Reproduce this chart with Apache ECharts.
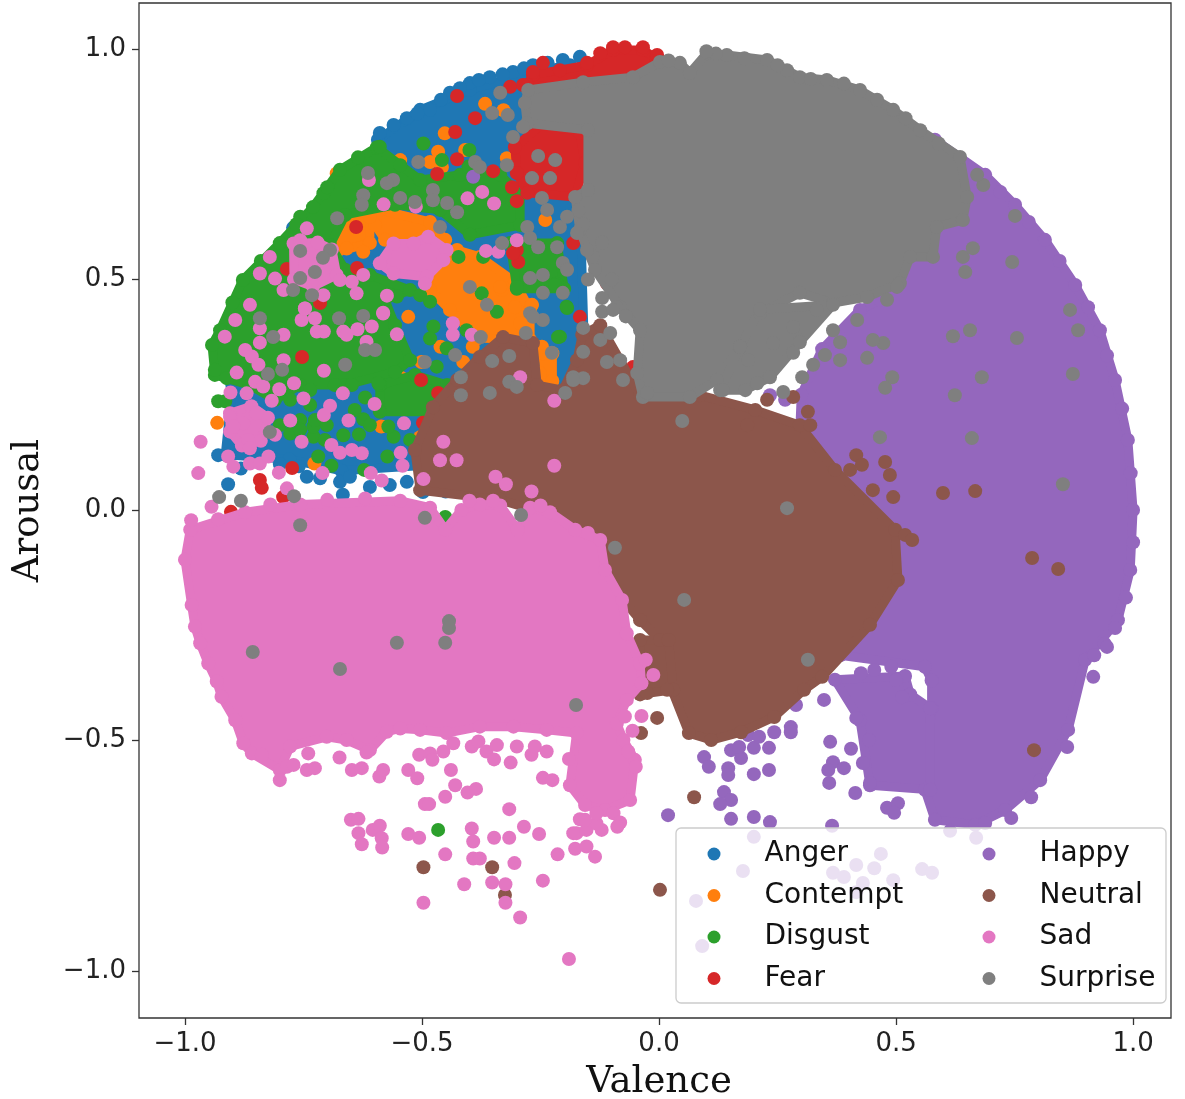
<!DOCTYPE html>
<html><head><meta charset="utf-8">
<style>html,body{margin:0;padding:0;background:#fff}#c{width:1185px;height:1099px}</style>
<script src="https://cdn.jsdelivr.net/npm/echarts@6/dist/echarts.min.js"></script>
</head><body><div id="c"></div>
<script>
const tickValues=[-1,-0.5,0,0.5,1];
const angerBody=[[-.593,.803],[-.504,.868],[-.399,.911],[-.272,.950],[-.188,.965],[-.167,.672],[-.156,.304],[-.209,.195],[-.45,.10],[-.67,.085],[-.78,.11],[-.915,.12],[-.90,.27],[-.757,.456],[-.673,.564]];
const angerDots=[[-.930,.119],[-.909,.056],[-.743,.072],[-.715,.069],[-.673,.061],[-.652,.072],[-.610,.050],[-.568,.054],[-.532,.061],[-.498,.039],[-.667,.033],[-.772,.612],[-.589,.818],[-.532,.850],[-.483,.868],[-.441,.905],[-.399,.926],[-.357,.939],[-.308,.950],[-.266,.965],[-.203,.976],[-.167,.983],[-.56,.835],[-.51,.86],[-.46,.89],[-.42,.915],[-.38,.933],[-.33,.945],[-.285,.958],[-.235,.97],[-.882,.09],[-.80,.10],[-.76,.095],[-.46,.07],[-.45,.04]];
const contemptPatchA=[[-.589,.651],[-.483,.625],[-.451,.586],[-.504,.564],[-.578,.586],[-.599,.618]];
const contemptPatchB=[[-.489,.521],[-.426,.564],[-.378,.549],[-.304,.495],[-.272,.434],[-.272,.369],[-.382,.373],[-.441,.434],[-.483,.477]];
const contemptPatchC=[[-.700,.636],[-.61,.636],[-.61,.579],[-.68,.56]];
const contemptPatchD=[[-.245,.34],[-.24,.28],[-.225,.28],[-.225,.34]];
const contemptDots=[[-.546,.759],[-.580,.766],[-.532,.730],[-.452,.817],[-.466,.777],[-.483,.755],[-.458,.744],[-.367,.881],[-.328,.867],[-.321,.763],[-.409,.781],[-.346,.695],[-.346,.629],[-.311,.643],[-.529,.419],[-.293,.405],[-.269,.444],[-.332,.477],[-.240,.629],[-.624,.560],[-.659,.567],[-.680,.730],[-.652,.687],[-.932,.189],[-.727,.101],[-.586,.181],[-.504,.158],[-.546,.288],[-.461,.354],[-.393,.354],[-.617,.325],[-.501,.321],[-.413,.321],[-.304,.440],[-.335,.484],[-.247,.354],[-.251,.297],[-.268,.445]];
const disgustBody=[[-.926,.390],[-.878,.499],[-.800,.579],[-.730,.657],[-.673,.738],[-.595,.787],[-.546,.748],[-.504,.716],[-.420,.727],[-.335,.727],[-.293,.683],[-.293,.618],[-.399,.597],[-.462,.651],[-.557,.662],[-.662,.640],[-.694,.575],[-.662,.521],[-.610,.510],[-.525,.477],[-.578,.456],[-.557,.401],[-.525,.325],[-.557,.299],[-.662,.271],[-.757,.271],[-.810,.239],[-.863,.271],[-.937,.293],[-.943,.358]];
const disgustPatchB=[[-.589,.271],[-.515,.293],[-.447,.271],[-.447,.213],[-.589,.213]];
const disgustPatchC=[[-.314,.579],[-.215,.579],[-.20,.48],[-.30,.48]];
const disgustDots=[[-.930,.236],[-.915,.236],[-.937,.304],[-.912,.286],[-.719,.116],[-.691,.096],[-.573,.116],[-.666,.162],[-.633,.164],[-.624,.197],[-.620,.244],[-.560,.159],[-.525,.152],[-.729,.159],[-.778,.166],[-.729,.181],[-.757,.195],[-.701,.184],[-.648,.271],[-.592,.275],[-.622,.087],[-.571,.181],[-.497,.795],[-.458,.759],[-.400,.781],[-.402,.745],[-.589,.788],[-.757,.636],[-.708,.687],[-.423,.549],[-.371,.549],[-.374,.470],[-.300,.484],[-.342,.430],[-.504,.466],[-.483,.452],[-.553,.463],[-.476,.398],[-.406,.390],[-.195,.441],[-.216,.491],[-.483,.372],[-.209,.376],[-.448,.351],[-.469,.311],[-.451,-.015],[-.139,.304],[-.213,.375],[-.219,.488],[-.194,.438],[-.310,.672],[-.466,-.694],[-.80,.184],[-.757,.174],[-.726,.195],[-.705,.152],[-.736,.228],[-.778,.239],[-.684,.271],[-.642,.217],[-.610,.184],[-.736,.260],[-.90,.45],[-.84,.54],[-.765,.62],[-.70,.70],[-.635,.765]];
const fearTop=[[-.266,.944],[-.152,.965],[-.097,.998],[-.034,.998],[-.006,.980],[-.040,.911],[-.278,.922]];
const fearMiddle=[[-.304,.787],[-.245,.839],[-.203,.831],[-.167,.818],[-.156,.753],[-.177,.679],[-.278,.688],[-.300,.731]];
const fearDots=[[-.266,.950],[-.245,.970],[-.209,.954],[-.152,.970],[-.124,.991],[-.097,1.004],[-.072,1.004],[-.034,1.004],[-.004,.987],[-.426,.898],[-.388,.850],[-.430,.820],[-.426,.761],[-.468,.729],[-.350,.735],[-.314,.918],[-.287,.922],[-.639,.614],[-.785,.523],[-.637,.525],[-.715,.449],[-.300,.564],[-.297,.538],[-.753,.332],[-.502,.282],[-.466,.254],[-.498,.189],[-.502,.113],[-.774,.091],[-.842,.065],[-.838,.048],[-.793,.028],[-.903,-.004],[-.135,.607],[-.124,.521],[-.110,.492],[-.055,.310],[-.055,.288],[-.167,.419],[-.308,.557],[-.181,.579],[-.30,.67],[-.31,.70]];
const happyMain=[[.582,.803],[.688,.727],[.751,.662],[.814,.586],[.878,.488],[.930,.390],[.962,.282],[.989,.152],[1.0,0],[.994,-.130],[.968,-.239],[.899,-.325],[.863,-.477],[.804,-.586],[.730,-.651],[.667,-.683],[.582,-.672],[.561,-.607],[.575,-.43],[.575,-.37],[.561,-.34],[.382,-.315],[.335,-.315],[.297,-.282],[.297,.174],[.30,.25],[.344,.349],[.424,.434],[.466,.456],[.508,.521],[.57,.76]];
const happyLower=[[.371,-.368],[.519,-.36],[.53,-.40],[.572,-.43],[.572,-.607],[.445,-.597],[.424,-.456]];
const happyDots=[[.72,.69],[.78,.625],[.845,.54],[.905,.44],[.945,.335],[.977,.22],[.995,.08],[1.0,-.07],[.985,-.19],[.94,-.29],[.49,-.34],[.426,-.354],[.454,-.347],[.500,-.369],[.513,-.406],[.160,.308],[.234,.249],[.266,.239],[-.392,.723],[.019,-.662],[.152,-.670],[.200,-.666],[.234,-.677],[.365,-.685],[.137,-.612],[.152,-.629],[.129,-.638],[.095,-.536],[.105,-.557],[.146,-.560],[.146,-.575],[.200,-.573],[.232,-.564],[.152,-.521],[.173,-.538],[.169,-.514],[.200,-.516],[.232,-.516],[.243,-.482],[.278,-.471],[.278,-.482],[.188,-.488],[.211,-.492],[.289,-.423],[.348,-.412],[.416,-.451],[.361,-.503],[.405,-.518],[.443,-.499],[.430,-.549],[.367,-.547],[.357,-.564],[.390,-.560],[.359,-.592],[.414,-.614],[.445,-.592],[.481,-.646],[.504,-.636],[.496,-.657],[.743,-.668],[.688,-.679],[.785,-.623],[.861,-.514],[.916,-.362],[.945,-.297],[.962,-.256],[.918,-.315],[.200,-.709],[.177,-.783],[.078,-.848],[.091,-.946],[.468,-.746],[.416,-.770],[.454,-.777],[.367,-.787],[.390,-.796],[.430,-.809],[.494,-.803],[.555,-.779],[.576,-.787],[.614,-.696],[.669,-.711],[.416,-.829]];
const neutralBody=[[-.477,.223],[-.426,.282],[-.378,.332],[-.329,.375],[-.266,.362],[-.257,.271],[-.203,.260],[-.173,.325],[-.162,.380],[-.124,.401],[-.040,.249],[.086,.249],[.203,.217],[.297,.184],[.371,.087],[.498,-.043],[.504,-.152],[.445,-.249],[.344,-.362],[.306,-.390],[.243,-.449],[.173,-.482],[.110,-.499],[.063,-.484],[.027,-.390],[.002,-.282],[-.040,-.239],[-.093,-.174],[-.167,-.087],[-.230,-.011],[-.335,.022],[-.504,.043],[-.515,.130]];
const neutralPatch=[[-.04,-.282],[.02,-.282],[.03,-.39],[-.04,-.40]];
const neutralDots=[[.074,-.623],[.002,-.824],[.791,-.521],[.787,-.104],[.842,-.128],[.599,.037],[.667,.041],[-.497,-.775],[-.352,-.775],[-.325,-.835],[-.004,-.451],[-.038,-.484],[-.243,-.445],[.416,.119],[.428,.098],[.477,.104],[.451,.043],[.494,.028],[.487,.076],[.519,-.054],[.534,-.065],[.403,.087],[.228,.239],[.283,.245],[.314,.213],[.319,.184],[.186,.184],[-.025,-.397],[.017,-.390]];
const sadBody=[[-.989,-.043],[-.873,-.005],[-.757,.012],[-.546,.02],[-.483,.005],[-.451,-.043],[-.417,.0],[-.378,.012],[-.335,.01],[-.298,-.043],[-.272,.005],[-.230,-.005],[-.177,-.043],[-.124,-.065],[-.114,-.130],[-.078,-.195],[-.068,-.268],[-.040,-.333],[-.037,-.376],[-.068,-.412],[-.089,-.463],[-.075,-.499],[-.051,-.542],[-.061,-.629],[-.114,-.651],[-.156,-.640],[-.188,-.597],[-.174,-.484],[-.237,-.477],[-.307,-.470],[-.378,-.470],[-.448,-.484],[-.504,-.477],[-.546,-.474],[-.574,-.481],[-.610,-.521],[-.659,-.499],[-.701,-.492],[-.778,-.513],[-.800,-.564],[-.859,-.528],[-.877,-.506],[-.894,-.456],[-.923,-.405],[-.933,-.372],[-.951,-.333],[-.968,-.289],[-.979,-.253],[-.986,-.206],[-1.0,-.108]];
const sadLobe=[[-.905,.21],[-.86,.225],[-.825,.20],[-.84,.15],[-.88,.14],[-.905,.17]];
const sadBlob=[[-.589,.535],[-.560,.578],[-.518,.578],[-.487,.593],[-.448,.564],[-.455,.542],[-.490,.506],[-.560,.513]];
const sadPatch=[[-.771,.578],[-.72,.58],[-.69,.565],[-.68,.51],[-.73,.485],[-.77,.50]];
const sadDots=[[-.93,-.02],[-.82,.012],[-.70,.022],[-.62,.025],[-.40,.02],[-.35,.02],[-.25,.01],[-.15,-.05],[-.838,-.531],[-.800,-.586],[-.785,-.557],[-.771,-.553],[-.743,-.564],[-.726,-.560],[-.740,-.528],[-.674,-.537],[-.648,-.564],[-.627,-.560],[-.590,-.578],[-.582,-.564],[-.617,-.526],[-.529,-.564],[-.510,-.582],[-.439,-.564],[-.430,-.597],[-.451,-.622],[-.494,-.638],[-.485,-.638],[-.404,-.613],[-.386,-.605],[-.506,-.531],[-.483,-.528],[-.478,-.542],[-.455,-.524],[-.434,-.506],[-.395,-.513],[-.381,-.502],[-.364,-.524],[-.348,-.541],[-.342,-.510],[-.313,-.548],[-.300,-.513],[-.269,-.531],[-.262,-.513],[-.237,-.524],[-.190,-.540],[-.245,-.581],[-.225,-.586],[-.316,-.649],[-.650,-.672],[-.634,-.670],[-.634,-.701],[-.627,-.725],[-.604,-.694],[-.589,-.685],[-.585,-.712],[-.584,-.732],[-.529,-.703],[-.506,-.711],[-.395,-.691],[-.392,-.719],[-.348,-.711],[-.316,-.711],[-.285,-.687],[-.253,-.703],[-.451,-.747],[-.392,-.756],[-.378,-.756],[-.305,-.766],[-.214,-.747],[-.411,-.812],[-.352,-.808],[-.324,-.812],[-.245,-.804],[-.497,-.852],[-.324,-.852],[-.293,-.884],[-.190,-.974],[-.177,-.735],[-.153,-.730],[-.135,-.752],[-.181,-.701],[-.167,-.671],[-.096,-.658],[-.082,-.678],[-.088,-.687],[-.121,-.694],[-.065,-.524],[-.049,-.557],[-.072,-.448],[-.037,-.447],[-.056,-.479],[-.028,-.325],[-.012,-.358],[-.174,-.701],[-.153,-.694],[-.132,-.680],[-.156,-.672],[-.132,-.658],
[-.916,.376],[-.894,.412],[-.863,.445],[-.842,.394],[-.842,.363],[-.792,.380],[-.754,.412],[-.747,.437],[-.726,.416],[-.722,.387],[-.707,.387],[-.666,.387],[-.659,.380],[-.636,.392],[-.606,.398],[-.617,.365],[-.582,.428],[-.553,.381],[-.435,.405],[-.435,.380],[-.395,.380],[-.707,.302],[-.770,.275],[-.801,.262],[-.750,.242],[-.667,.253],[-.600,.230],[-.655,.194],[-.694,.226],[-.707,.206],[-.778,.194],[-.817,.237],[-.870,.253],[-.904,.255],[-.891,.298],[-.792,.325],[-.873,.347],[-.859,.333],[-.845,.315],[-.852,.278],[-.835,.268],[-.810,.163],[-.905,.202],[-.877,.188],[-.849,.210],[-.898,.181],[-.866,.152],[-.863,.134],[-.967,.148],[-.972,.080],[-.909,.116],[-.898,.094],[-.863,.101],[-.842,.101],[-.824,.116],[-.944,.007],[-.987,-.022],[-.802,.081],[-.785,.047],[-.710,.080],[-.754,.148],[-.691,.141],[-.673,.124],[-.648,.130],[-.627,.123],[-.608,.080],[-.585,.064],[-.545,.124],[-.541,.096],[-.538,.188],[-.455,.148],[-.462,.108],[-.427,.108],[-.221,.096],[-.221,.237],[-.345,.072],[-.323,.056],[-.269,.040],[-.293,.288],[-.497,.067],
[-.743,.611],[-.757,.585],[-.821,.549],[-.842,.513],[-.810,.502],[-.792,.477],[-.747,.437],[-.708,.466],[-.673,.499],[-.638,.470],[-.648,.495],[-.624,.510],[-.574,.465],[-.582,.426],[-.612,.716],[-.581,.663],[-.513,.658],[-.404,.676],[-.373,.690],[-.348,.665],[-.300,.585],[-.365,.562],[-.339,.560],[-.494,.491]];
const surpriseBody=[[-.276,.911],[-.160,.928],[-.055,.939],[.002,.972],[.044,.970],[.065,.948],[.101,.991],[.143,.987],[.228,.976],[.270,.954],[.297,.939],[.354,.933],[.424,.911],[.494,.868],[.551,.824],[.635,.766],[.650,.679],[.641,.629],[.586,.614],[.578,.549],[.530,.549],[.508,.492],[.439,.462],[.367,.449],[.297,.471],[.213,.427],[.171,.354],[.122,.282],[.065,.245],[-.034,.245],[-.046,.297],[-.040,.390],[-.082,.440],[-.135,.521],[-.167,.607],[-.177,.679],[-.150,.694],[-.150,.824],[-.278,.839],[-.283,.883]];
const surprisePatch=[[.213,.435],[.367,.445],[.297,.364],[.234,.288],[.182,.26],[.129,.26],[.171,.354]];
const surpriseDots=[[-.12,.46],[-.10,.50],[-.14,.55],[-.15,.50],[-.12,.58],[-.09,.44],[-.12,.43],[-.07,.42],[-.16,.62],[-.17,.65],[.02,.975],[.12,.99],[.18,.98],[.25,.965],[.32,.935],[.39,.925],[.46,.89],[.52,.85],[.59,.795],[.10,.995],[.188,.325],[.207,.275],[.262,.256],[.302,.288],[.283,.341],[.325,.315],[.350,.336],[.382,.325],[.439,.330],[.473,.362],[.451,.369],[.382,.364],[.367,.390],[.418,.412],[.481,.456],[.502,.484],[.333,.434],[.283,.397],[.241,.362],[.135,.260],[.641,.549],[.662,.568],[.646,.516],[.684,.705],[.671,.727],[.656,.390],[.620,.377],[.681,.288],[.624,.249],[.492,.288],[.477,.265],[.751,.638],[.745,.538],[.867,.434],[.884,.390],[.755,.373],[.873,.295],[.660,.156],[.852,.056],[.466,.158],[.270,.004],[.049,.193],[.314,-.325],[.053,-.195],[-.093,-.082],[-.857,-.308],[-.673,-.345],[-.553,-.288],[-.443,-.241],[-.443,-.256],[-.451,-.288],[-.175,-.423],[-.494,-.017],[-.757,-.033],[-.928,.028],[-.882,.020],[-.770,.030],
[-.614,.731],[-.561,.716],[-.574,.709],[-.624,.683],[-.627,.662],[-.546,.677],[-.515,.668],[-.679,.633],[-.477,.694],[-.477,.672],[-.447,.666],[-.426,.646],[-.462,.614],[-.508,.755],[-.388,.755],[-.378,.744],[-.321,.748],[-.335,.905],[-.352,.861],[-.319,.857],[-.308,.809],[-.287,.831],[-.268,.720],[-.230,.720],[-.255,.768],[-.219,.759],[-.278,.614],[-.236,.651],[-.272,.590],[-.255,.570],[-.215,.570],[-.209,.614],[-.331,.579],[-.272,.503],[-.245,.510],[-.245,.471],[-.203,.536],[-.203,.471],[-.272,.427],[-.245,.412],[-.399,.484],[-.363,.445],[-.694,.564],[-.709,.547],[-.757,.562],[-.726,.516],[-.757,.503],[-.772,.477],[-.732,.466],[-.842,.416],
[-.814,.375],[-.795,.304],[-.825,.295],[-.675,.416],[-.624,.421],[-.620,.347],[-.599,.347],[-.662,.315],[-.821,.169],[-.291,-.011],[-.494,.321],[-.430,.336],[-.418,.288],[-.418,.249],[-.352,.323],[-.316,.334],[-.357,.254],[-.316,.278],[-.300,.267],[-.226,.341],[-.376,.375],[-.281,.384],[-.181,.288],[-.198,.254],[-.266,.419],
[-.076,.282],[-.160,.286],[-.181,.282],[-.110,.321],[-.160,.343],[-.082,.325],[-.124,.369],[-.160,.395],[-.103,.384],[-.097,.434],[-.194,.521],[-.152,.564],[-.173,.601],[-.194,.636],[-.247,.677],[-.025,.254]];

const C={Anger:'#1f77b4',Contempt:'#ff7f0e',Disgust:'#2ca02c',Fear:'#d62728',Happy:'#9467bd',Neutral:'#8c564b',Sad:'#e377c2',Surprise:'#7f7f7f'};
const layers=[
 ['Anger',[angerBody],angerDots],
 ['Contempt',[contemptPatchA,contemptPatchB,contemptPatchC,contemptPatchD],contemptDots],
 ['Disgust',[disgustBody,disgustPatchB,disgustPatchC],disgustDots],
 ['Fear',[fearTop,fearMiddle],fearDots],
 ['Happy',[happyMain,happyLower],happyDots],
 ['Neutral',[neutralBody,neutralPatch],neutralDots],
 ['Sad',[sadBody,sadLobe,sadBlob,sadPatch],sadDots],
 ['Surprise',[surpriseBody,surprisePatch],surpriseDots]
];
const series=[];
layers.forEach(([name,polys,dots],i)=>{
  polys.forEach(poly=>{
    series.push({type:'custom',name,coordinateSystem:'cartesian2d',data:poly,silent:true,z:3+2*i,
      itemStyle:{color:C[name]},
      encode:{x:0,y:1},
      renderItem:(p,api)=> p.dataIndex!==0?null:({type:'polygon',
        shape:{points:poly.map(d=>api.coord(d))},
        style:{fill:C[name],stroke:C[name],lineWidth:9,lineJoin:'round'}})
    });
  });
  series.push({type:'scatter',name,data:polys.flat().concat(dots),symbol:'circle',symbolSize:14,z:4+2*i,
    itemStyle:{color:C[name],opacity:1},silent:true,large:false});
});
const fmt=v=>(v<0?'\u2212':'')+Math.abs(v).toFixed(1);
const tickTxt={color:'#222',fontFamily:'DejaVu Sans',fontSize:26};
const legendBase={orient:'vertical',itemWidth:13,itemHeight:13,itemGap:13.5,z:200,padding:0,
  icon:'circle',textStyle:{fontFamily:'DejaVu Sans',fontSize:28,color:'#111',lineHeight:28,padding:[0,0,0,39]},selectedMode:false};
const chart=echarts.init(document.getElementById('c'),null,{renderer:'canvas'});
chart.setOption({
  animation:false,backgroundColor:'#fff',
  grid:{left:139,top:3,width:1032,height:1015,show:true,borderColor:'#333',borderWidth:1.3,backgroundColor:'#fff',outerBoundsMode:'none'},
  xAxis:{type:'value',min:-1.097,max:1.080,splitLine:{show:false},axisLine:{show:false,onZero:false},
    axisTick:{show:true,length:7,customValues:tickValues,lineStyle:{color:'#333',width:1.3}},
    axisLabel:{customValues:tickValues,formatter:fmt,margin:13,...tickTxt},
    name:'Valence',nameLocation:'middle',nameGap:46,nameTextStyle:{fontFamily:'DejaVu Serif',fontSize:37,color:'#111',padding:[0,0,0,8]}},
  yAxis:{type:'value',min:-1.102,max:1.0998,splitLine:{show:false},axisLine:{show:false,onZero:false},
    axisTick:{show:true,length:7,customValues:tickValues,lineStyle:{color:'#333',width:1.3}},
    axisLabel:{customValues:tickValues,formatter:fmt,margin:13,...tickTxt},
    name:'Arousal',nameLocation:'middle',nameGap:92,nameTextStyle:{fontFamily:'DejaVu Serif',fontSize:37,color:'#111'}},
  legend:[
    {...legendBase,left:707.5,top:840,data:['Anger','Contempt','Disgust','Fear']},
    {...legendBase,left:982.5,top:840,data:['Happy','Neutral','Sad','Surprise']}
  ],
  graphic:[{type:'rect',z:100,shape:{x:676,y:828,width:490,height:175,r:5},
    style:{fill:'rgba(255,255,255,0.8)',stroke:'#ccc',lineWidth:1.3}}],
  series
});
</script></body></html>
